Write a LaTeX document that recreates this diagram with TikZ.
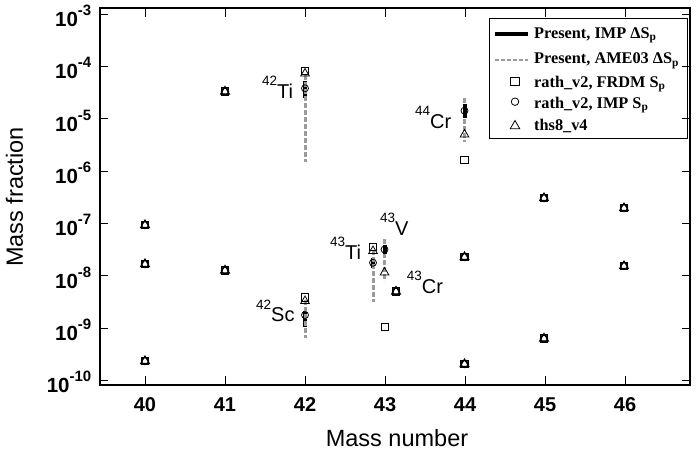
\documentclass[tikz,border=0pt]{standalone}
\usepackage{fontspec}
\setmainfont{Liberation Sans}
\newfontfamily\legfont{Liberation Serif}
\usetikzlibrary{shapes.geometric}
\definecolor{bargray}{RGB}{155,155,155}
\newcommand\myesup[1]{\raisebox{12.5pt}{\fontsize{13.5}{13.5}\selectfont #1}}
\newcommand\mytsup[1]{\raisebox{11pt}{\fontsize{15}{15}\selectfont\bfseries -#1}}
\tikzset{
 frameln/.style={line width=1.2pt},
 tickln/.style={line width=1pt},
 msq/.style={draw, rectangle, minimum size=7.5pt, inner sep=0pt, line width=0.8pt},
 mci/.style={draw, circle, minimum size=7pt, inner sep=0pt, line width=0.8pt},
 mtr/.style={draw, regular polygon, regular polygon sides=3, minimum size=10pt, inner sep=0pt, line width=0.8pt},
 blackbar/.style={line width=4pt, black},
 graybar/.style={line width=3pt, bargray, dash pattern=on 5pt off 2pt},
 ticklab/.style={font=\fontsize{20}{20}\selectfont\bfseries, inner sep=0pt},
 ylab/.style={font=\fontsize{20.5}{20.5}\selectfont\bfseries, inner sep=0pt, anchor=base east},
 axlab/.style={font=\fontsize{23.5}{23.5}\selectfont, inner sep=0pt, anchor=base},
 elab/.style={font=\fontsize{20}{20}\selectfont, inner sep=0pt, anchor=base west},
 legtext/.style={font=\legfont\fontsize{16.3}{16.3}\selectfont\bfseries, inner sep=0pt, anchor=base west},
}
\begin{document}
\begin{tikzpicture}[x=1pt,y=-1pt]
\useasboundingbox[fill=white] (0,0) rectangle (696,451);
% frame and ticks
\draw[frameln] (100,8) rectangle (690,385);
\foreach \k in {0,...,7}{
  \pgfmathsetmacro\yy{14.3+52.3*\k}
  \draw[tickln] (100,\yy) -- (108,\yy);
  \draw[tickln] (690,\yy) -- (682,\yy);
}
\foreach \n in {40,...,46}{
  \pgfmathsetmacro\xx{145+80*(\n-40)}
  \draw[tickln] (\xx,8) -- (\xx,17);
  \draw[tickln] (\xx,385) -- (\xx,376);
  \node[ticklab] (xt\n) at (\xx,404.5) {\n};
}
\foreach \k/\e in {0/3,1/4,2/5,3/6,4/7,5/8,6/9,7/10}{
  \pgfmathsetmacro\yy{14.3+52.3*\k+12.3}
  \node[ylab] (yt\e) at (91.5,\yy) {10\mytsup{\e}};
}
% axis titles
\node[axlab] (xtitle) at (397,446.5) {Mass number};
\node[axlab, rotate=90] (ytitle) at (23,197) {Mass fraction};
% overlapping markers
\foreach \x/\y [count=\i] in {145/225,145/264,145/361,225/91.5,225/270.5,396/291.5,464.5/257,464.5/364,544/198,544/338.5,624/208,624/266}{
  \node[msq, line width=1.3pt] (ps\i) at (\x,\y) {};
  \node[mci, line width=1.3pt] (pc\i) at (\x,\y) {};
  \node[mtr, line width=1.1pt] (pt\i) at (\x,\y) {};
}
% 42Ti
\coordinate (tiGa) at (305,75); \coordinate (tiGb) at (305,162);
\coordinate (tiBa) at (305,81); \coordinate (tiBb) at (305,98);
\draw[blackbar] (tiBa) -- (tiBb);
\draw[graybar] (tiGa) -- (tiGb);
\node[msq] (tiS) at (305,70.8) {};
\node[mtr] (tiT) at (305,73.5) {};
\node[mci] (tiC) at (305,88.3) {};
% 42Sc
\coordinate (scGa) at (305,300); \coordinate (scGb) at (305,338);
\coordinate (scBa) at (305,311); \coordinate (scBb) at (305,327);
\draw[blackbar] (scBa) -- (scBb);
\draw[graybar] (scGa) -- (scGb);
\node[msq] (scS) at (305,297.3) {};
\node[mtr] (scT) at (305,301) {};
\node[mci] (scC) at (305,315) {};
% 43Ti
\coordinate (ttGa) at (373,250); \coordinate (ttGb) at (373,302);
\coordinate (ttBa) at (373,258); \coordinate (ttBb) at (373,268);
\draw[blackbar] (ttBa) -- (ttBb);
\draw[graybar] (ttGa) -- (ttGb);
\node[msq] (ttS) at (373,246.7) {};
\node[mtr] (ttT) at (373,251) {};
\node[mci] (ttC) at (373,262.7) {};
% 43V
\coordinate (vGa) at (384.5,239); \coordinate (vGb) at (384.5,281);
\coordinate (vBa) at (384.5,245); \coordinate (vBb) at (384.5,254);
\draw[graybar] (vGa) -- (vGb);
\draw[blackbar] (vBa) -- (vBb);
\node[mci] (vC) at (384.5,249.5) {};
\node[mtr] (vT) at (384.5,272.5) {};
\node[msq] (vS) at (385,327) {};
% 44Cr
\coordinate (crGa) at (464.5,98); \coordinate (crGb) at (464.5,142);
\coordinate (crBa) at (464.5,104); \coordinate (crBb) at (464.5,118);
\draw[graybar] (crGa) -- (crGb);
\draw[blackbar] (crBa) -- (crBb);
\node[mci] (crC) at (464.5,110.7) {};
\node[mtr] (crT) at (464.5,134.5) {};
\node[msq] (crS) at (464.5,160) {};
% element labels
\node[elab] (lTi42) at (262,98) {\myesup{42}Ti};
\node[elab] (lSc42) at (256,321.7) {\myesup{42}Sc};
\node[elab] (lTi43) at (330,259.3) {\myesup{43}Ti};
\node[elab] (lV43) at (380,235) {\myesup{43}V};
\node[elab] (lCr43) at (406.7,293.3) {\myesup{43}Cr};
\node[elab] (lCr44) at (415,128.3) {\myesup{44}Cr};
% legend
\draw[line width=1pt] (489,18) rectangle (687,138);
\coordinate (lg1a) at (495,33.5); \coordinate (lg1b) at (528,33.5);
\draw[blackbar] (lg1a) -- (lg1b);
\node[legtext] (lt1) at (534,38.3) {Present, IMP ΔS\textsubscript{p}};
\coordinate (lg2a) at (495,60); \coordinate (lg2b) at (528,60);
\draw[graybar, line width=2pt, dash pattern=on 4pt off 2pt] (lg2a) -- (lg2b);
\node[legtext] (lt2) at (534,63.5) {Present, AME03 ΔS\textsubscript{p}};
\node[msq, minimum size=8.5pt] (lm3) at (515,81.5) {};
\node[legtext] (lt3) at (534,87.3) {rath\_v2, FRDM S\textsubscript{p}};
\node[mci, minimum size=7.5pt] (lm4) at (515,101.7) {};
\node[legtext] (lt4) at (534,108.3) {rath\_v2, IMP S\textsubscript{p}};
\node[mtr, minimum size=11pt] (lm5) at (515,126) {};
\node[legtext] (lt5) at (534,130) {ths8\_v4};
\end{tikzpicture}
\end{document}
